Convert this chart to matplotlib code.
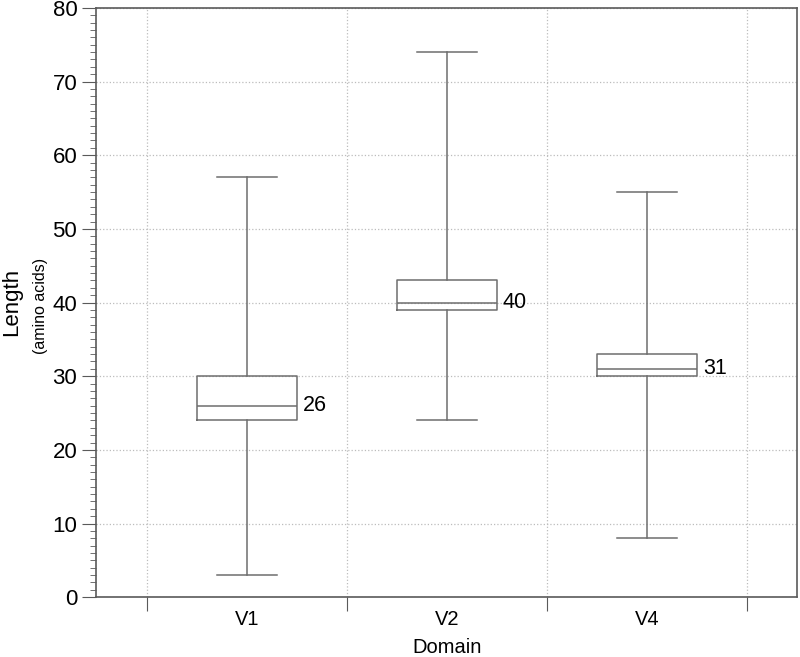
import matplotlib
matplotlib.use("Agg")
from matplotlib import pyplot as plt
from matplotlib.ticker import MultipleLocator

plt.rcParams['font.family'] = ['Liberation Sans', 'DejaVu Sans']

# box statistics
domains = ["V1", "V2", "V4"]
mins = [3, 24, 8]
q1s = [24, 39, 30]
medians = [26, 40, 31]
q3s = [30, 43, 33]
maxs = [57, 74, 55]

line_col = "#6e6e6e"
axis_col = "#5a5a5a"

fig = plt.figure(figsize=(8.0, 6.57), dpi=100)
ax = fig.add_axes([0.12, 0.091, 0.876, 0.897])

stats = []
for name, lo, q1, med, q3, hi in zip(domains, mins, q1s, medians, q3s, maxs):
    stats.append({"label": name, "whislo": lo, "q1": q1, "med": med,
                  "q3": q3, "whishi": hi, "fliers": []})

pos = list(range(1, len(domains) + 1))
props = dict(color=line_col, linewidth=1.1)
ax.bxp(stats, positions=pos, widths=0.5, showfliers=False,
       boxprops=props, whiskerprops=props, capprops=props,
       medianprops=props, capwidths=0.3, zorder=3)

for p, med in zip(pos, medians):
    ax.text(p + 0.28, med, str(med), fontsize=15.5, va="center", ha="left")

ax.set_xlim(0.245, 3.75)
ax.set_ylim(0, 80)
ax.set_xticks([0.5, 1.5, 2.5, 3.5])
ax.set_xticklabels([])
ax.set_xticks(pos, minor=True)
ax.set_xticklabels(domains, minor=True, fontsize=14.5)
ax.tick_params(axis="x", which="major", length=10, color=axis_col)
ax.tick_params(axis="x", which="minor", length=0, pad=9)

ax.yaxis.set_major_locator(MultipleLocator(10))
ax.yaxis.set_minor_locator(MultipleLocator(1))
ax.tick_params(axis="y", which="major", length=10, color=axis_col, labelsize=16)
ax.tick_params(axis="y", which="minor", length=4, color=axis_col)

ax.grid(True, which="major", linestyle=":", color="#bcbcbc", linewidth=0.9)
ax.set_axisbelow(True)

for s in ax.spines.values():
    s.set_color(axis_col)
    s.set_linewidth(1.2)

fig.text(0.559, 0.014, "Domain", fontsize=14.5, ha="center", va="center")
fig.text(0.015, 0.54, "Length", rotation=90, fontsize=16, ha="center", va="center")
fig.text(0.05, 0.534, "(amino acids)", rotation=90, fontsize=11.5, ha="center", va="center")

fig.savefig("out.png", dpi=100)
